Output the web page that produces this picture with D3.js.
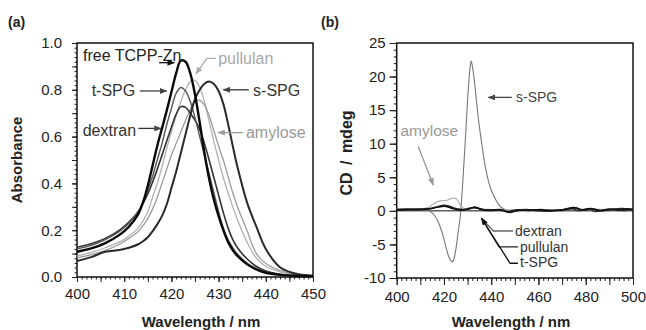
<!DOCTYPE html>
<html>
<head>
<meta charset="utf-8">
<script src="https://cdn.jsdelivr.net/npm/d3@7"></script>
<style>
  body { margin: 0; background: #fff; }
  svg { font-family: "Liberation Sans", Arial, Helvetica, sans-serif; }
</style>
</head>
<body>
<svg id="fig" width="646" height="330"></svg>
<script>
// ---------- panel (a): absorbance ----------
const wlA = [400, 403, 406, 409, 411, 413, 414, 415, 416, 417, 418, 419, 420, 421, 422, 423, 424,
             425, 426, 427, 428, 429, 430, 431, 432, 433, 434, 436, 438, 440, 443, 446, 450];
const absTCPP     = [0.108, 0.122, 0.145, 0.18, 0.215, 0.27, 0.32, 0.39, 0.475, 0.56, 0.635, 0.71, 0.79, 0.87, 0.925, 0.92, 0.87,
                     0.78, 0.66, 0.53, 0.42, 0.33, 0.26, 0.2, 0.15, 0.115, 0.09, 0.055, 0.032, 0.018, 0.009, 0.005, 0.003];
const absTSPG     = [0.12, 0.135, 0.16, 0.195, 0.23, 0.28, 0.32, 0.37, 0.43, 0.5, 0.57, 0.65, 0.72, 0.785, 0.81, 0.795, 0.75,
                     0.68, 0.6, 0.52, 0.44, 0.36, 0.28, 0.21, 0.16, 0.125, 0.097, 0.06, 0.036, 0.021, 0.011, 0.006, 0.003];
const absDextran  = [0.127, 0.142, 0.165, 0.2, 0.235, 0.28, 0.315, 0.355, 0.405, 0.46, 0.52, 0.58, 0.64, 0.695, 0.728, 0.725, 0.7,
                     0.67, 0.63, 0.57, 0.5, 0.425, 0.35, 0.275, 0.21, 0.16, 0.125, 0.078, 0.045, 0.026, 0.012, 0.007, 0.004];
const absPullulan = [0.09, 0.105, 0.125, 0.15, 0.175, 0.21, 0.24, 0.28, 0.34, 0.4, 0.47, 0.55, 0.62, 0.69, 0.75, 0.8, 0.835,
                     0.84, 0.81, 0.75, 0.665, 0.58, 0.5, 0.425, 0.36, 0.3, 0.245, 0.15, 0.08, 0.045, 0.022, 0.011, 0.005];
const absAmylose  = [0.082, 0.096, 0.114, 0.14, 0.165, 0.195, 0.22, 0.25, 0.29, 0.34, 0.4, 0.46, 0.52, 0.57, 0.62, 0.67, 0.715,
                     0.75, 0.755, 0.735, 0.69, 0.625, 0.56, 0.5, 0.43, 0.36, 0.3, 0.2, 0.1, 0.058, 0.028, 0.013, 0.006];
const absSSPG     = [0.068, 0.085, 0.108, 0.115, 0.125, 0.14, 0.153, 0.17, 0.195, 0.225, 0.26, 0.31, 0.38, 0.45, 0.53, 0.61, 0.69,
                     0.76, 0.8, 0.826, 0.835, 0.825, 0.795, 0.74, 0.655, 0.56, 0.47, 0.32, 0.215, 0.12, 0.042, 0.016, 0.005];

// ---------- panel (b): CD ----------
const wlCdSSPG = [400, 405, 410, 413, 415, 417, 418, 419, 420, 421, 422, 423, 423.6, 424, 425, 426, 427, 428, 429, 430, 431,
                  431.5, 432, 433, 434, 435, 436, 437, 438, 439, 440, 442, 444, 446, 448, 452, 458, 464, 470, 476, 482, 488, 494, 500];
const cdSSPG   = [0.3, 0.3, 0.35, 0.2, -0.3, -1.2, -2.0, -3.0, -4.2, -5.6, -6.8, -7.45, -7.6, -7.4, -5.8, -3.2, -0.5, 4.5, 10.3, 16.5, 21.2,
                  22.3, 21.6, 19, 15.5, 12.5, 10, 7.6, 5.7, 4.2, 3.1, 1.6, 0.6, 0.2, -0.2, 0.1, 0.2, 0.0, 0.2, 0.3, 0.1, 0.2, 0.3, 0.2];
const wlCdAmylose = [400, 405, 410, 413, 415, 417, 419, 421, 423, 424.5, 425.5, 426.5, 427.5, 429, 432, 435, 440, 445, 450, 460, 470, 480, 490, 500];
const cdAmylose   = [0.25, 0.3, 0.3, 0.45, 0.9, 1.35, 1.5, 1.55, 1.8, 1.9, 1.7, 1.1, 0.55, 0.35, 0.5, 0.3, 0.2, 0.15, 0.2, 0.15, 0.2, 0.25, 0.2, 0.25];
const wlCdDextran = [400, 405, 410, 414, 417, 420, 423, 426, 429, 432, 434, 437, 440, 445, 447, 450, 455, 460, 465, 470,
                     474, 477, 481, 484, 488, 492, 496, 500];
const cdDextran   = [0.1, 0.15, 0.2, 0.3, 0.55, 0.7, 0.5, 0.2, 0.15, 0.45, 0.4, 0.1, 0.05, 0.1, -0.2, 0.05, 0.2, 0.0, 0.1, 0.05,
                     0.35, 0.0, 0.3, -0.1, 0.1, 0.25, 0.05, 0.15];
const wlCdPullulan = [400, 405, 410, 414, 417, 420, 422, 425, 428, 431, 433, 435, 438, 441, 445, 448, 452, 458, 463, 468,
                      472, 476, 479, 483, 487, 491, 495, 500];
const cdPullulan   = [0.2, 0.2, 0.25, 0.35, 0.6, 0.85, 0.75, 0.35, 0.2, 0.3, 0.6, 0.35, 0.1, 0.15, 0.0, -0.25, 0.1, 0.15, -0.05, 0.1,
                      0.25, 0.45, 0.1, 0.3, 0.0, 0.2, 0.35, 0.2];
const wlCdTSPG = [400, 405, 410, 414, 418, 421, 424, 427, 430, 433, 436, 440, 444, 447, 451, 456, 461, 466, 470, 475,
                  478, 482, 486, 490, 494, 498, 500];
const cdTSPG   = [0.15, 0.25, 0.2, 0.3, 0.6, 0.65, 0.3, 0.1, 0.3, 0.5, 0.2, 0.1, 0.2, -0.15, 0.15, 0.05, 0.2, 0.0, 0.15, 0.5,
                  0.15, 0.35, 0.05, 0.3, 0.1, 0.3, 0.2];

const ticksAbsY = [0, 0.2, 0.4, 0.6, 0.8, 1.0];
const ticksAbsX = [400, 410, 420, 430, 440, 450];
const ticksCdY = [-10, -5, 0, 5, 10, 15, 20, 25];
const ticksCdX = [400, 420, 440, 460, 480, 500];

const svg = d3.select('#fig');
const defs = svg.append('defs');

function marker(id, color) {
  defs.append('marker')
    .attr('id', id)
    .attr('viewBox', '0 0 10 8')
    .attr('refX', 9).attr('refY', 4)
    .attr('markerWidth', 8).attr('markerHeight', 6)
    .attr('markerUnits', 'userSpaceOnUse')
    .attr('orient', 'auto')
    .append('path').attr('d', 'M0,0 L10,4 L0,8 Z').attr('fill', color);
}
marker('hBlack', '#111');
marker('hDark', '#444');
marker('hGray', '#999');
marker('hLight', '#aaa');

function panel(xs, ys, opt) {
  const g = svg.append('g');
  const [x0, x1] = xs.range();
  const [y0, y1] = ys.range();

  const minorX = g.append('g').attr('transform', `translate(0,${y0})`)
    .call(d3.axisBottom(xs).tickValues(opt.minorX).tickSize(opt.minorLen).tickFormat(''));
  const majorX = g.append('g').attr('transform', `translate(0,${y0})`)
    .call(d3.axisBottom(xs).tickValues(opt.majorX).tickSize(opt.majorLen).tickFormat(''));
  const labX = g.append('g').attr('transform', `translate(0,${y0})`)
    .call(d3.axisBottom(xs).tickValues(opt.labelX).tickSize(opt.majorLen).tickPadding(opt.padX).tickFormat(d => String(d)));

  const minorY = g.append('g').attr('transform', `translate(${x0},0)`)
    .call(d3.axisLeft(ys).tickValues(opt.minorY).tickSize(opt.minorLen).tickFormat(''));
  const majorY = g.append('g').attr('transform', `translate(${x0},0)`)
    .call(d3.axisLeft(ys).tickValues(opt.majorY).tickSize(opt.majorLen).tickFormat(''));
  const labY = g.append('g').attr('transform', `translate(${x0},0)`)
    .call(d3.axisLeft(ys).tickValues(opt.labelY).tickSize(opt.majorLen).tickPadding(opt.padY).tickFormat(opt.fmtY));

  [minorX, majorX, labX, minorY, majorY, labY].forEach(a => {
    a.select('.domain').remove();
    a.selectAll('line').attr('stroke', '#222').attr('stroke-width', 1);
    a.selectAll('text').attr('font-size', 15).attr('fill', '#222')
      .attr('font-family', '"Liberation Sans", Arial, sans-serif');
  });

  g.append('rect')
    .attr('x', x0).attr('y', y1)
    .attr('width', x1 - x0).attr('height', y0 - y1)
    .attr('fill', 'none').attr('stroke', '#111').attr('stroke-width', 1.5);
  return g;
}

function drawSeries(g, xs, ys, wl, vals, color, width) {
  const line = d3.line().x(d => xs(d[0])).y(d => ys(d[1])).curve(d3.curveCatmullRom.alpha(0.5));
  g.append('path').datum(d3.zip(wl, vals))
    .attr('d', line)
    .attr('fill', 'none')
    .attr('stroke', color)
    .attr('stroke-width', width)
    .attr('stroke-linejoin', 'round');
}

function annotate(g, xs, ys, a) {
  g.append('text')
    .attr('x', xs(a.at[0])).attr('y', ys(a.at[1]))
    .attr('dy', '0.35em')
    .attr('font-size', a.size)
    .attr('fill', a.color)
    .text(a.text);
  (a.lines || []).forEach(l => {
    g.append('path')
      .datum(l.pts)
      .attr('d', d3.line().x(d => xs(d[0])).y(d => ys(d[1])))
      .attr('fill', 'none')
      .attr('stroke', l.color)
      .attr('stroke-width', 1.3)
      .attr('marker-end', l.head ? `url(#${l.head})` : null);
  });
}

// ---- panel (a)
const xA = d3.scaleLinear().domain([400, 450]).range([77, 313]);
const yA = d3.scaleLinear().domain([0, 1]).range([277, 43]);
const gA = panel(xA, yA, {
  minorX: d3.range(400, 451, 1), majorX: d3.range(400, 451, 5), labelX: ticksAbsX,
  minorY: d3.range(0, 1.001, 0.02), majorY: d3.range(0, 1.001, 0.1), labelY: ticksAbsY,
  minorLen: 2.5, majorLen: 5, padX: 6, padY: 10, fmtY: d3.format('.1f')
});
drawSeries(gA, xA, yA, wlA, absPullulan, '#b0b0b0', 1.3);
drawSeries(gA, xA, yA, wlA, absAmylose, '#9a9a9a', 1.3);
drawSeries(gA, xA, yA, wlA, absDextran, '#333', 1.6);
drawSeries(gA, xA, yA, wlA, absTSPG, '#555', 1.4);
drawSeries(gA, xA, yA, wlA, absSSPG, '#2a2a2a', 2);
drawSeries(gA, xA, yA, wlA, absTCPP, '#0a0a0a', 2.4);

const notesA = [
  { text: 'free TCPP-Zn', at: [401.27, 0.949], size: 16, color: '#222',
    lines: [{ pts: [[417.4, 0.916], [420.6, 0.916]], color: '#111', head: 'hBlack' }] },
  { text: 't-SPG', at: [403.1, 0.796], size: 16, color: '#333',
    lines: [{ pts: [[413.3, 0.795], [419.0, 0.795]], color: '#444', head: 'hDark' }] },
  { text: 'dextran', at: [401.2, 0.628], size: 16, color: '#333',
    lines: [{ pts: [[413.0, 0.635], [417.8, 0.635]], color: '#333', head: 'hDark' }] },
  { text: 'pullulan', at: [429.9, 0.935], size: 16, color: '#a8a8a8',
    lines: [{ pts: [[429.4, 0.934], [427.5, 0.934], [425.2, 0.868]], color: '#aaa', head: 'hLight' }] },
  { text: 's-SPG', at: [437.3, 0.799], size: 16, color: '#333',
    lines: [{ pts: [[436.4, 0.80], [431.0, 0.80]], color: '#333', head: 'hDark' }] },
  { text: 'amylose', at: [435.8, 0.617], size: 16, color: '#999',
    lines: [{ pts: [[435.2, 0.617], [429.9, 0.617]], color: '#999', head: 'hGray' }] }
];
notesA.forEach(a => annotate(gA, xA, yA, a));

// ---- panel (b)
const xB = d3.scaleLinear().domain([400, 500]).range([396.7, 633]);
const yB = d3.scaleLinear().domain([-10, 25]).range([278, 43]);
const gB = panel(xB, yB, {
  minorX: d3.range(400, 501, 2), majorX: d3.range(400, 501, 10), labelX: ticksCdX,
  minorY: d3.range(-10, 25.01, 1), majorY: d3.range(-10, 25.01, 5), labelY: ticksCdY,
  minorLen: 3, majorLen: 7, padX: 6, padY: 4, fmtY: d => String(d)
});
gB.append('line')
  .attr('x1', xB(400)).attr('x2', xB(500))
  .attr('y1', yB(0)).attr('y2', yB(0))
  .attr('stroke', '#111').attr('stroke-width', 1);
drawSeries(gB, xB, yB, wlCdSSPG, cdSSPG, '#777', 1.1);
drawSeries(gB, xB, yB, wlCdAmylose, cdAmylose, '#aaa', 1.1);
drawSeries(gB, xB, yB, wlCdDextran, cdDextran, '#333', 1.4);
drawSeries(gB, xB, yB, wlCdPullulan, cdPullulan, '#222', 1.4);
drawSeries(gB, xB, yB, wlCdTSPG, cdTSPG, '#111', 1.4);

const tipB = [435.9, -1.1];
const notesB = [
  { text: 's-SPG', at: [450.5, 16.9], size: 14, color: '#444',
    lines: [{ pts: [[448.7, 16.9], [438.8, 16.9]], color: '#444', head: 'hDark' }] },
  { text: 'amylose', at: [401.6, 11.95], size: 15.5, color: '#999',
    lines: [{ pts: [[409.1, 9.57], [415.5, 3.86]], color: '#999', head: 'hGray' }] },
  { text: 'dextran', at: [450.1, -3.0], size: 14, color: '#333',
    lines: [{ pts: [[449.3, -3.0], [440.9, -3.0], tipB], color: '#666' }] },
  { text: 'pullulan', at: [452.2, -5.35], size: 14, color: '#333',
    lines: [{ pts: [[451.3, -5.35], [443.3, -5.35], tipB], color: '#222' }] },
  { text: 't-SPG', at: [452.2, -7.6], size: 14, color: '#333',
    lines: [{ pts: [[451.3, -7.8], [447.95, -7.8], tipB], color: '#111', head: 'hBlack' }] }
];
notesB.forEach(a => annotate(gB, xB, yB, a));

// ---- titles
const titleStyle = s => s.attr('font-weight', 'bold').attr('font-size', 15).attr('fill', '#222');
svg.append('text').attr('x', 8).attr('y', 27).attr('font-weight', 'bold').attr('font-size', 14).attr('fill', '#222').text('(a)');
svg.append('text').attr('x', 321).attr('y', 27).attr('font-weight', 'bold').attr('font-size', 14).attr('fill', '#222').text('(b)');
svg.append('text').call(titleStyle)
  .attr('transform', 'translate(17,160) rotate(-90)')
  .attr('text-anchor', 'middle').attr('dy', '0.35em').text('Absorbance');
svg.append('text').call(titleStyle)
  .attr('x', 201).attr('y', 327).attr('text-anchor', 'middle').text('Wavelength / nm');
svg.append('text').call(titleStyle)
  .attr('font-size', 16).attr('word-spacing', 3)
  .attr('transform', 'translate(346,153) rotate(-90)')
  .attr('text-anchor', 'middle').attr('dy', '0.35em').text('CD / mdeg');
svg.append('text').call(titleStyle)
  .attr('x', 511).attr('y', 327).attr('text-anchor', 'middle').text('Wavelength / nm');
</script>
</body>
</html>
